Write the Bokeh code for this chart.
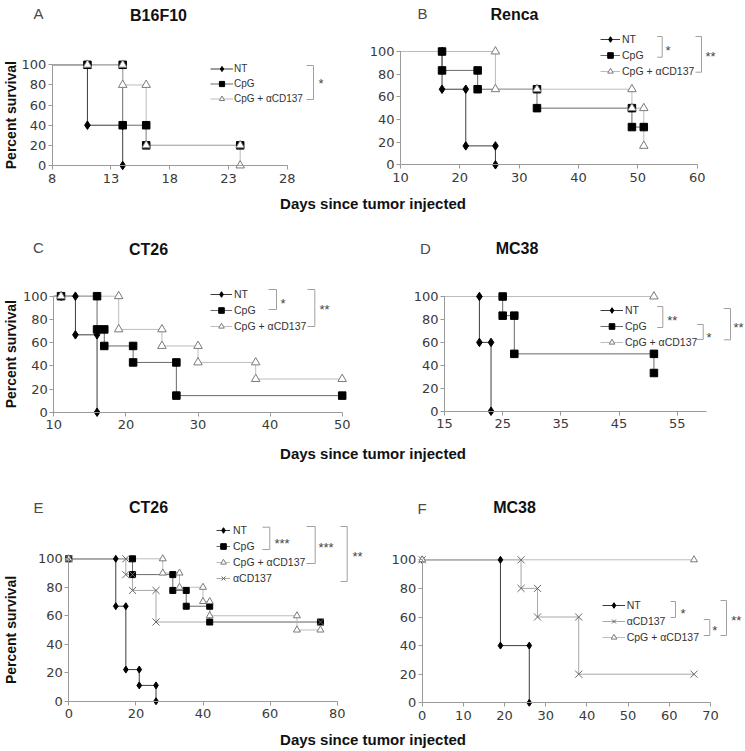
import math
from bokeh.plotting import figure
from bokeh.models import LinearAxis, FixedTicker, Range1d, Legend, LegendItem
from bokeh.layouts import row, column
from bokeh.embed import file_html
from bokeh.resources import INLINE
from bokeh.core.properties import value

# ---------------- data ----------------
Y_TICKS = [0, 20, 40, 60, 80, 100]
XLABEL = "Days since tumor injected"
YLABEL = "Percent survival"

# A: B16F10
A_ticks = [8, 13, 18, 23, 28]
A_NT_x = [8, 11, 11, 14, 14]
A_NT_y = [100, 100, 40, 40, 0]
A_CpG_x = [8, 11, 14, 14, 16, 16, 24]
A_CpG_y = [100, 100, 100, 40, 40, 20, 20]
A_CpGa_x = [8, 11, 14, 14, 16, 16, 24, 24]
A_CpGa_y = [100, 100, 100, 80, 80, 20, 20, 0]

# B: Renca
B_ticks = [10, 20, 30, 40, 50, 60]
B_NT_x = [10, 17, 17, 21, 21, 26, 26]
B_NT_y = [100, 100, 66.7, 66.7, 16.7, 16.7, 0]
B_CpG_x = [10, 17, 17, 23, 23, 33, 33, 49, 49, 51]
B_CpG_y = [100, 100, 83.3, 83.3, 66.7, 66.7, 50, 50, 33.3, 33.3]
B_CpGa_x = [10, 26, 26, 33, 49, 49, 51, 51]
B_CpGa_y = [100, 100, 66.7, 66.7, 66.7, 50, 50, 16.7]

# C: CT26
C_ticks = [10, 20, 30, 40, 50]
C_NT_x = [10, 11, 13, 13, 16, 16]
C_NT_y = [100, 100, 100, 66.7, 66.7, 0]
C_CpG_x = [10, 11, 16, 16, 17, 17, 21, 21, 27, 27, 50]
C_CpG_y = [100, 100, 100, 71.4, 71.4, 57.1, 57.1, 42.9, 42.9, 14.3, 14.3]
C_CpGa_x = [10, 11, 19, 19, 25, 25, 30, 30, 38, 38, 50]
C_CpGa_y = [100, 100, 100, 71.4, 71.4, 57.1, 57.1, 42.9, 42.9, 28.6, 28.6]

# D: MC38
D_ticks = [15, 25, 35, 45, 55]
D_NT_x = [15, 21, 21, 23, 23]
D_NT_y = [100, 100, 60, 60, 0]
D_CpG_x = [15, 25, 25, 27, 27, 51, 51]
D_CpG_y = [100, 100, 83.3, 83.3, 50, 50, 33.3]
D_CpGa_x = [15, 51]
D_CpGa_y = [100, 100]

# E: CT26
E_ticks = [0, 20, 40, 60, 80]
E_NT_x = [0, 14, 14, 17, 17, 21, 21, 26, 26]
E_NT_y = [100, 100, 66.7, 66.7, 22.2, 22.2, 11.1, 11.1, 0]
E_CpG_x = [0, 19, 19, 31, 31, 35, 35, 42, 42, 75]
E_CpG_y = [100, 100, 88.9, 88.9, 77.8, 77.8, 66.7, 66.7, 55.6, 55.6]
E_CpGa_x = [0, 28, 28, 33, 33, 40, 40, 42, 42, 68, 68, 75]
E_CpGa_y = [100, 100, 90, 90, 80, 80, 70, 70, 60, 60, 50, 50]
E_aCD_x = [0, 17, 17, 19, 19, 26, 26, 75]
E_aCD_y = [100, 100, 88.9, 88.9, 77.8, 77.8, 55.6, 55.6]

# F: MC38
F_ticks = [0, 10, 20, 30, 40, 50, 60, 70]
F_NT_x = [0, 19, 19, 26, 26]
F_NT_y = [100, 100, 40, 40, 0]
F_aCD_x = [0, 24, 24, 28, 28, 38, 38, 66]
F_aCD_y = [100, 100, 80, 80, 60, 60, 20, 20]
F_CpGa_x = [0, 66]
F_CpGa_y = [100, 100]

NT, CPG, CPGA, ACD = "NT", "CpG", "CpG + \u03b1CD137", "\u03b1CD137"

# ---------------- styles ----------------
FONT = "Liberation Sans"
TICK_FONT = "DejaVu Sans"
STY = {
    NT: dict(marker="diamond", fill="#000000", edge="#000000", lc="#3c3c3c"),
    CPG: dict(marker="square", fill="#000000", edge="#000000", lc="#6a6a6a"),
    CPGA: dict(marker="triangle", fill="#ffffff", edge="#7a7a7a", lc="#bcbcbc"),
    ACD: dict(marker="x", fill=None, edge="#666666", lc="#a8a8a8"),
}
SIZE_BIG = {"diamond": 8.5, "square": 7.5, "triangle": 8.5, "x": 10}
SIZE_SMALL = {"diamond": 7, "square": 6, "triangle": 7, "x": 10}
PAGE_W = 745


def make_panel(canvas, xcal, ycal, xlim, xticks, series, skip_first, msize,
               legend_cfg, brackets, stars, letter, letter_pos, title, title_pos,
               ylabel):
    L, T, R, B = canvas
    (xv0, xp0), (xv1, xp1) = xcal
    y0p, y100p = ycal
    bx = (xp1 - xp0) / (xv1 - xv0)
    by = (y0p - y100p) / 100.0

    def fx(px):
        return xv0 + (px - xp0) / bx

    def fy(py):
        return (y0p - py) / by

    p = figure(width=R - L, height=B - T,
               x_range=Range1d(fx(L), fx(R)), y_range=Range1d(fy(B), fy(T)),
               output_backend="svg", toolbar_location=None,
               x_axis_location=None, y_axis_location=None,
               min_border=0, outline_line_color=None, title=None)
    p.background_fill_color = "white"
    p.border_fill_color = "white"
    p.xgrid.visible = False
    p.ygrid.visible = False

    xa = LinearAxis(fixed_location=0, bounds=(xlim[0], xlim[1]),
                    ticker=FixedTicker(ticks=xticks))
    ya = LinearAxis(fixed_location=xlim[0], bounds=(0, 100),
                    ticker=FixedTicker(ticks=Y_TICKS))
    for ax in (xa, ya):
        ax.axis_line_color = "#9a9a9a"
        ax.major_tick_line_color = "#9a9a9a"
        ax.major_tick_in = 0
        ax.major_tick_out = 4
        ax.minor_tick_line_color = None
        ax.major_label_text_font = TICK_FONT
        ax.major_label_text_font_size = "13px"
        ax.major_label_text_color = "#3a3a3a"
    xa.major_label_standoff = 4
    ya.major_label_standoff = 2
    p.add_layout(xa, "below")
    p.add_layout(ya, "left")

    line_rs, mark_rs = {}, {}
    for name, xs, ys in series:
        st = STY[name]
        line_rs[name] = p.line(xs, ys, line_color=st["lc"], line_width=1)
    k = 1 if skip_first else 0
    for name, xs, ys in series:
        st = STY[name]
        mark_rs[name] = p.scatter(xs[k:], ys[k:], marker=st["marker"],
                                  size=msize[st["marker"]], fill_color=st["fill"],
                                  line_color=st["edge"], line_width=1)

    gl, gw, standoff, first_row, pitch, fs = legend_cfg
    items = [LegendItem(label=n, renderers=[line_rs[n], mark_rs[n]]) for n, _, _ in series]
    n = len(items)
    gh = int(pitch - 2)
    top = first_row - gh / 2.0
    height = n * gh + (n - 1) * 2
    legend = Legend(items=items, location=(gl - L, B - (top + height)),
                    glyph_width=gw, glyph_height=gh, label_height=gh, label_width=10,
                    label_standoff=standoff, spacing=2, padding=0, margin=0,
                    background_fill_alpha=0, border_line_alpha=0,
                    label_text_font=FONT, label_text_font_size=fs,
                    label_text_color="#333333")
    p.add_layout(legend)

    for (xl, xr, yt, yb) in brackets:
        p.line([fx(xl), fx(xr), fx(xr), fx(xl)], [fy(yt), fy(yt), fy(yb), fy(yb)],
               line_color="#a0a0a0", line_width=1)
    for (txt, sx, sy) in stars:
        p.text([fx(sx)], [fy(sy + 3)], text=[txt], text_font=value(FONT),
               text_font_size="13px", text_color="#444444",
               text_align="left", text_baseline="middle")

    p.text([fx(letter_pos[0])], [fy(letter_pos[1])], text=[letter],
           text_font=value(FONT), text_font_size="15px", text_color="#4a4a4a",
           text_align="center", text_baseline="middle")
    p.text([fx(title_pos[0])], [fy(title_pos[1])], text=[title],
           text_font=value(FONT), text_font_size="16px", text_font_style="bold",
           text_color="#111111", text_align="center", text_baseline="middle")
    if ylabel:
        p.text([fx(10)], [fy((y0p + y100p) / 2.0)], text=[YLABEL], angle=math.pi / 2,
               text_font=value(FONT), text_font_size="14px", text_font_style="bold",
               text_color="#111111", text_align="center", text_baseline="middle")
    return p


def label_fig(top, bottom, cy):
    p = figure(width=PAGE_W, height=bottom - top, x_range=Range1d(0, PAGE_W),
               y_range=Range1d(bottom, top), output_backend="svg",
               toolbar_location=None, x_axis_location=None, y_axis_location=None,
               min_border=0, outline_line_color=None, title=None)
    p.xgrid.visible = False
    p.ygrid.visible = False
    p.text([372.5], [cy], text=[XLABEL], text_font=value(FONT), text_font_size="15px",
           text_font_style="bold", text_color="#111111",
           text_align="center", text_baseline="middle")
    return p


pA = make_panel((0, 0, 370, 190), ((8, 51.7), (28, 286.7)), (165, 64.3), (8, 28), A_ticks,
                [(NT, A_NT_x, A_NT_y), (CPG, A_CpG_x, A_CpG_y), (CPGA, A_CpGa_x, A_CpGa_y)],
                True, SIZE_BIG, (210, 23, 1, 68.3, 15, "10px"),
                [(306, 313, 65, 99)], [("*", 318, 80)],
                "A", (38, 13), "B16F10", (158, 14.5), True)

pB = make_panel((370, 0, 745, 190), ((10, 400), (60, 696.7)), (164.3, 51), (10, 60), B_ticks,
                [(NT, B_NT_x, B_NT_y), (CPG, B_CpG_x, B_CpG_y), (CPGA, B_CpGa_x, B_CpGa_y)],
                True, SIZE_BIG, (600, 20, 2, 39.3, 16, "10.5px"),
                [(656.7, 661.7, 36, 56.7), (695, 701, 36, 71.7)],
                [("*", 665, 47), ("**", 705, 53)],
                "B", (422, 13), "Renca", (514, 13.5), False)

pC = make_panel((0, 215, 370, 440), ((10, 53.3), (50, 341.7)), (411.7, 295.7), (10, 50), C_ticks,
                [(NT, C_NT_x, C_NT_y), (CPG, C_CpG_x, C_CpG_y), (CPGA, C_CpGa_x, C_CpGa_y)],
                True, SIZE_BIG, (210, 22, 2, 294, 16, "10.5px"),
                [(268, 276, 289, 309), (307, 314.3, 289, 326)],
                [("*", 280, 300), ("**", 319, 306)],
                "C", (38, 247), "CT26", (148, 248.5), True)

pD = make_panel((370, 215, 745, 440), ((15, 444), (55, 676.7)), (410.7, 296), (15, 60), D_ticks,
                [(NT, D_NT_x, D_NT_y), (CPG, D_CpG_x, D_CpG_y), (CPGA, D_CpGa_x, D_CpGa_y)],
                True, SIZE_BIG, (600, 23, 2, 310, 16, "10.5px"),
                [(656.7, 662.3, 306, 327), (696.7, 702.7, 324, 339), (723.3, 730, 308, 339.3)],
                [("**", 666.7, 316.7), ("*", 706, 334), ("**", 733, 324)],
                "D", (425, 248), "MC38", (516.5, 248), False)

pE = make_panel((0, 465, 370, 725), ((0, 68.3), (80, 336.7)), (700.7, 558.3), (0, 80), E_ticks,
                [(NT, E_NT_x, E_NT_y), (CPG, E_CpG_x, E_CpG_y), (CPGA, E_CpGa_x, E_CpGa_y),
                 (ACD, E_aCD_x, E_aCD_y)],
                False, SIZE_SMALL, (216, 14, 3, 530, 16, "10.5px"),
                [(262, 269.3, 526.7, 549), (306, 314.7, 526, 563), (340, 346.7, 526, 581)],
                [("***", 274, 540), ("***", 318, 544), ("**", 352, 553)],
                "E", (38, 507), "CT26", (148, 506.5), True)

pF = make_panel((370, 465, 745, 725), ((0, 421.7), (70, 710)), (702.3, 559.3), (0, 70), F_ticks,
                [(NT, F_NT_x, F_NT_y), (ACD, F_aCD_x, F_aCD_y), (CPGA, F_CpGa_x, F_CpGa_y)],
                False, SIZE_SMALL, (601.7, 23, 2, 605, 16, "10.5px"),
                [(670, 675, 601, 617), (703.3, 709.3, 619, 635), (720, 726, 600, 635)],
                [("*", 680, 610), ("*", 711.7, 627), ("**", 730.7, 617)],
                "F", (421.5, 507.5), "MC38", (514, 507), False)

l1 = label_fig(190, 215, 203)
l2 = label_fig(440, 465, 453)
l3 = label_fig(725, 751, 739)

layout = column(row(pA, pB), l1, row(pC, pD), l2, row(pE, pF), l3)

open("out.html", "w").write(file_html(layout, INLINE))
